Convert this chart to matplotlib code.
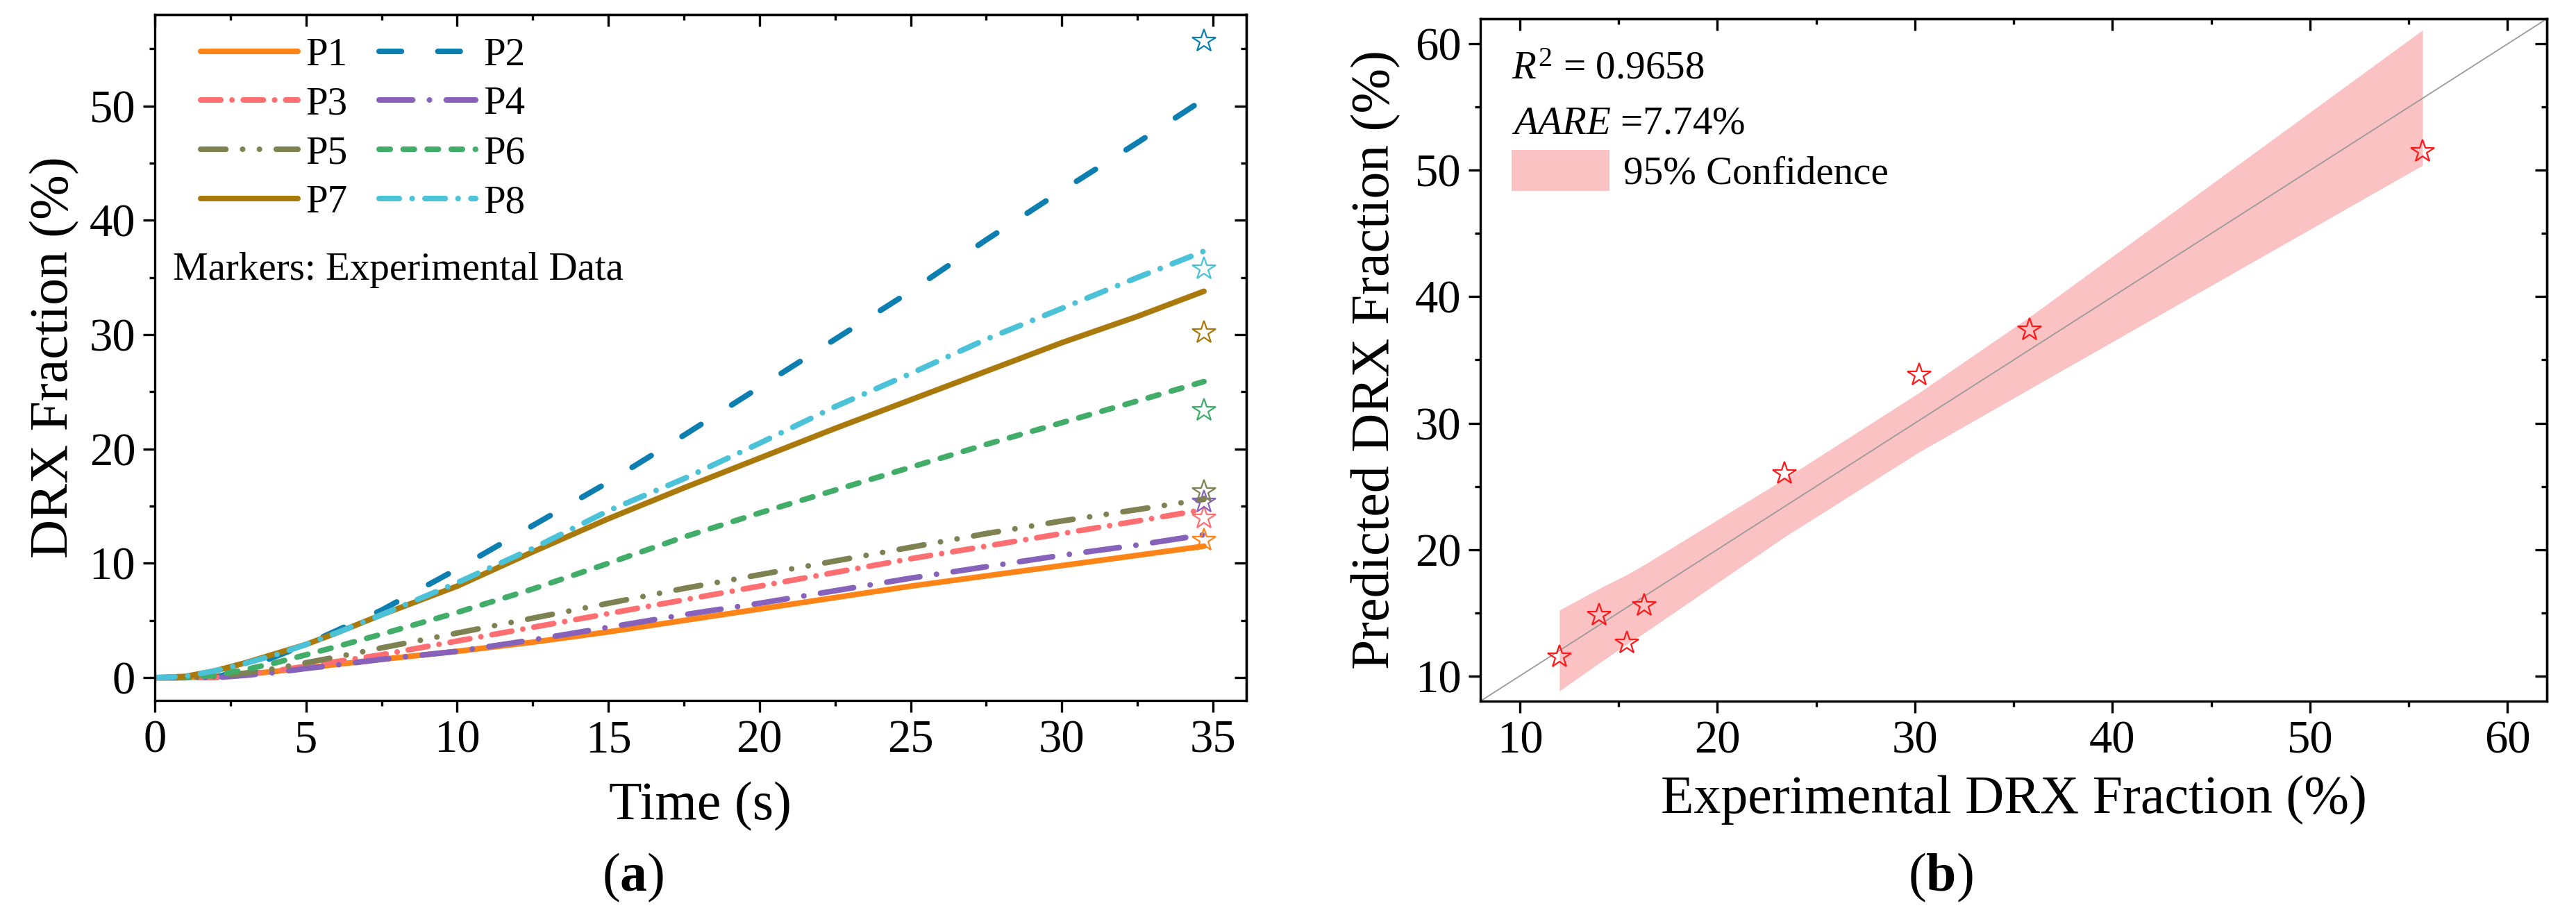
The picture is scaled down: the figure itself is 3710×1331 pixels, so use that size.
import numpy as np
import matplotlib
matplotlib.use('Agg')
import matplotlib.pyplot as plt
from matplotlib.ticker import MultipleLocator

plt.rcParams['font.family'] = ['Liberation Serif', 'DejaVu Serif']
plt.rcParams['mathtext.fontset'] = 'custom'
plt.rcParams['mathtext.rm'] = 'Liberation Serif'
plt.rcParams['mathtext.it'] = 'Liberation Serif:italic'
plt.rcParams['mathtext.bf'] = 'Liberation Serif:bold'

# (a) predicted DRX fraction vs time
time_s = [0, 1, 2, 3, 4, 5, 6, 7.5, 10, 12.5, 15, 17.5, 20, 22.5, 25, 27.5, 30, 32.5, 34.7]
P1 = [0, 0, 0.1, 0.3, 0.55, 0.85, 1.15, 1.6, 2.3, 3.1, 4.0, 5.0, 6.0, 7.0, 8.0, 8.9, 9.8, 10.7, 11.5]
P2 = [0, 0, 0, 0.8, 1.85, 2.9, 4.1, 5.9, 9.5, 13.3, 17.1, 21.2, 25.4, 29.6, 33.8, 38.3, 42.6, 46.8, 50.6]
P3 = [0, 0, 0, 0.3, 0.6, 1.0, 1.4, 2.0, 3.2, 4.4, 5.6, 6.8, 8.0, 9.2, 10.4, 11.5, 12.6, 13.7, 14.7]
P4 = [0, 0, 0, 0.2, 0.45, 0.8, 1.1, 1.6, 2.3, 3.3, 4.4, 5.5, 6.5, 7.6, 8.7, 9.7, 10.7, 11.6, 12.5]
P5 = [0, 0, 0.1, 0.4, 0.8, 1.3, 1.8, 2.6, 3.9, 5.2, 6.5, 7.8, 9.0, 10.2, 11.4, 12.6, 13.7, 14.7, 15.6]
P6 = [0, 0, 0.2, 0.7, 1.3, 2.0, 2.7, 3.8, 5.7, 7.75, 10.0, 12.3, 14.4, 16.4, 18.4, 20.4, 22.3, 24.2, 25.9]
P7 = [0, 0.1, 0.6, 1.3, 2.1, 2.9, 3.9, 5.5, 8.0, 11.0, 13.9, 16.6, 19.2, 21.8, 24.3, 26.8, 29.3, 31.6, 33.8]
P8 = [0, 0.1, 0.6, 1.25, 2.0, 2.9, 3.9, 5.5, 8.3, 11.3, 14.6, 17.4, 20.5, 23.7, 26.6, 29.6, 32.3, 35.0, 37.3]
names = ['P1', 'P2', 'P3', 'P4', 'P5', 'P6', 'P7', 'P8']
# experimental values (stars), same order as names
exp_a = [12.0, 55.7, 14.0, 15.4, 16.3, 23.4, 30.2, 35.8]

# (b) experimental vs predicted, sorted by experimental value
exp_b = [12.0, 14.0, 15.4, 16.3, 23.4, 30.2, 35.8, 55.7]
pred_b = [11.5, 14.8, 12.6, 15.6, 26.0, 33.8, 37.4, 51.5]
band_lo = [8.8, 11.0, 12.5, 13.4, 21.0, 27.7, 32.7, 50.4]
band_hi = [15.2, 16.9, 18.0, 18.8, 25.6, 32.4, 38.4, 61.1]

colors = ['#ff8418', '#0d7eb0', '#ff6f72', '#8762ba', '#7e8151', '#41ad68', '#a9790c', '#4bc2d7']
styles = ['-', (0, (4.0, 6.5)), (0, (3.6, 2.0, 0.01, 2.0)), (0, (6, 3.0, 0.01, 3.0)),
          (0, (4.5, 3.0, 0.01, 3.0, 0.01, 3.0)), (0, (2.0, 2.3)), '-', (0, (3.6, 2.3, 0.01, 2.3))]

TICK_FS = 48
LAB_FS = 56
LEG_FS = 41
LW = 5.8

fig = plt.figure(figsize=(37.1, 13.31), dpi=100)
ax1 = fig.add_axes([0.0601, 0.2419, 0.4237, 0.7423])
ax2 = fig.add_axes([0.5747, 0.2412, 0.4140, 0.7385])


def style_axes(ax, xmaj, xmin, ymaj, ymin):
    for s in ax.spines.values():
        s.set_linewidth(2.4)
    ax.xaxis.set_major_locator(MultipleLocator(xmaj))
    ax.xaxis.set_minor_locator(MultipleLocator(xmin))
    ax.yaxis.set_major_locator(MultipleLocator(ymaj))
    ax.yaxis.set_minor_locator(MultipleLocator(ymin))
    ax.tick_params(which='major', direction='out', length=12, width=2.4,
                   labelsize=TICK_FS, pad=8)
    ax.tick_params(which='minor', direction='out', length=6, width=2.4)
    # mirrored ticks on top/right point inward, without labels
    top = ax.secondary_xaxis('top')
    top.xaxis.set_major_locator(MultipleLocator(xmaj))
    top.xaxis.set_minor_locator(MultipleLocator(xmin))
    top.tick_params(which='major', direction='in', length=12, width=2.4, labeltop=False)
    top.tick_params(which='minor', direction='in', length=6, width=2.4)
    right = ax.secondary_yaxis('right')
    right.yaxis.set_major_locator(MultipleLocator(ymaj))
    right.yaxis.set_minor_locator(MultipleLocator(ymin))
    right.tick_params(which='major', direction='in', length=12, width=2.4, labelright=False)
    right.tick_params(which='minor', direction='in', length=6, width=2.4)
    for sec in (top, right):
        for s in sec.spines.values():
            s.set_linewidth(2.4)


# ---- panel (a)
series = [P1, P2, P3, P4, P5, P6, P7, P8]
handles = []
for name, vals, c, ls in zip(names, series, colors, styles):
    h, = ax1.plot(time_s, vals, color=c, linestyle=ls, linewidth=LW,
                  dash_capstyle='round', solid_capstyle='round', label=name)
    handles.append(h)
for vals, c in zip(exp_a, colors):
    ax1.plot(time_s[-1], vals, marker='*', markersize=25, markerfacecolor='none',
             markeredgecolor=c, markeredgewidth=1.6, linestyle='none', zorder=5)

ax1.set_xlim(0, 36.1)
ax1.set_ylim(-2, 58)
style_axes(ax1, 5, 2.5, 10, 5)
ax1.set_xlabel('Time (s)', fontsize=LAB_FS)
ax1.set_ylabel('DRX Fraction (%)', fontsize=LAB_FS)
ax1.xaxis.set_label_coords(0.5, -0.118)
ax1.yaxis.set_label_coords(-0.069, 0.5)

# row-wise legend order: P1 P2 / P3 P4 / ...
order = [0, 2, 4, 6, 1, 3, 5, 7]
ax1.legend([handles[i] for i in order], [names[i] for i in order],
           ncol=2, loc='upper left', bbox_to_anchor=(0.042, 0.967), frameon=False,
           fontsize=LEG_FS, handlelength=2.45, handletextpad=0.2, columnspacing=0.8,
           labelspacing=0.33, borderpad=0, borderaxespad=0)
ax1.text(0.0165, 0.613, 'Markers: Experimental Data', transform=ax1.transAxes,
         fontsize=LEG_FS, va='baseline', ha='left')

# ---- panel (b)
band = ax2.fill_between(exp_b, band_lo, band_hi, color='#fbc2c4', linewidth=0,
                        label='95% Confidence', zorder=1)
ax2.axline((0, 0), slope=1, color='#9a9a9a', linewidth=1.3, zorder=2)
ax2.plot(exp_b, pred_b, marker='*', markersize=25, markerfacecolor='none',
         markeredgecolor='#ff1a1a', markeredgewidth=1.6, linestyle='none', zorder=5)

ax2.set_xlim(8, 62)
ax2.set_ylim(8, 62)
style_axes(ax2, 10, 5, 10, 5)
ax2.set_xlabel('Experimental DRX Fraction (%)', fontsize=LAB_FS)
ax2.set_ylabel('Predicted DRX Fraction (%)', fontsize=LAB_FS)
ax2.xaxis.set_label_coords(0.5, -0.108)
ax2.yaxis.set_label_coords(-0.075, 0.5)

ax2.text(0.0293, 0.9125, r'$R^2$ = 0.9658', transform=ax2.transAxes,
         fontsize=LEG_FS, va='baseline', ha='left')
ax2.text(0.0293, 0.832, r'$AARE$ =7.74%', transform=ax2.transAxes,
         fontsize=LEG_FS, va='baseline', ha='left')
ax2.legend(handles=[band], loc='upper left', bbox_to_anchor=(0.0293, 0.808), frameon=False,
           fontsize=LEG_FS, handlelength=2.47, handleheight=1.23, handletextpad=0.35,
           borderpad=0, borderaxespad=0)

fig.text(912 / 3710, 0.05, r'($\mathbf{a}$)', ha='center', va='center', fontsize=LAB_FS)
fig.text(2795 / 3710, 0.05, r'($\mathbf{b}$)', ha='center', va='center', fontsize=LAB_FS)

fig.savefig('out.png', dpi=100)
